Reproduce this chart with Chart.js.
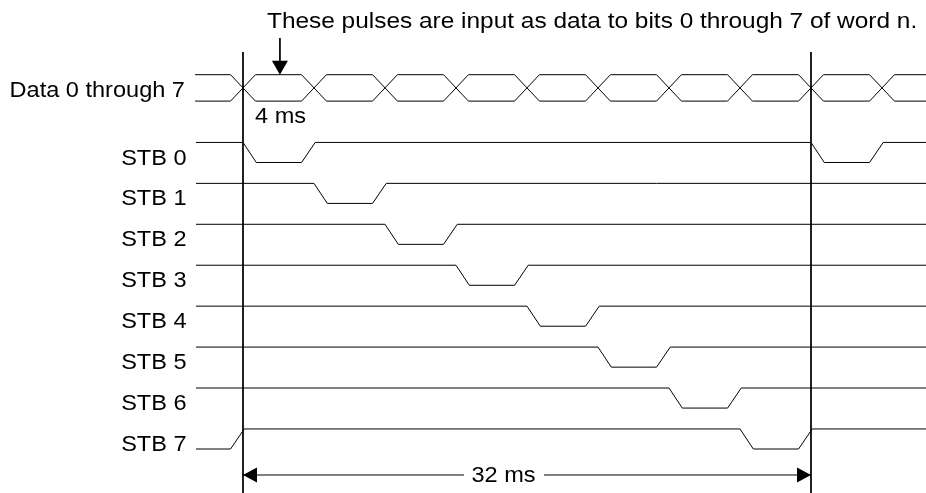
<!DOCTYPE html>
<html>
<head>
<meta charset="utf-8">
<script src="https://cdn.jsdelivr.net/npm/chart.js@4/dist/chart.umd.min.js"></script>
<style>
  body { margin: 0; background: #fff; }
  #wrap { width: 926px; height: 493px; position: relative; }
</style>
</head>
<body>
<div id="wrap"><canvas id="timing"></canvas></div>
<script>
// time in ms, levels in "lane" units (STB 7 low = 0)
const dataLabel = "Data 0 through 7";
const strobeLabels = ["STB 0", "STB 1", "STB 2", "STB 3", "STB 4", "STB 5", "STB 6", "STB 7"];
const strobeLow = [7, 6, 5, 4, 3, 2, 1, 0];
const strobePulseStarts = [[0, 32], [4], [8], [12], [16], [20], [24], [-4, 28]];
const pulseEdges = [0, 0.75, 3.3, 4.07]; // fall start, fall end, rise start, rise end
const dataCrossings = [0, 4, 8, 12, 16, 20, 24, 28, 32, 36];
const crossHalf = 0.7;
const dataLevels = [8.5, 9.145];
const markerTimes = [0, 32];
const titleText = "These pulses are input as data to bits 0 through 7 of word n.";
const cellText = "4 ms";
const spanText = "32 ms";

const pulseHeight = 0.49;
const traceStart = -2.65;
const traceEnd = 38.6;

function strobeTrace(starts, lo) {
  const hi = lo + pulseHeight;
  const pts = [];
  starts.forEach(t => {
    pts.push({ x: t + pulseEdges[0], y: hi }, { x: t + pulseEdges[1], y: lo },
             { x: t + pulseEdges[2], y: lo }, { x: t + pulseEdges[3], y: hi });
  });
  const out = [];
  let prev = { x: -Infinity, y: hi };
  for (const p of pts) {
    if (p.x <= traceStart) { prev = p; continue; }
    if (!out.length) {
      let y = prev.y;
      if (isFinite(prev.x)) y = prev.y + (p.y - prev.y) * (traceStart - prev.x) / (p.x - prev.x);
      out.push({ x: traceStart, y });
    }
    out.push(p);
  }
  if (!out.length) out.push({ x: traceStart, y: prev.y });
  out.push({ x: traceEnd, y: out[out.length - 1].y });
  return out;
}

function busTrace(startLevel) {
  let lvl = startLevel;
  const other = l => (l === dataLevels[0] ? dataLevels[1] : dataLevels[0]);
  const pts = [{ x: traceStart - 0.05, y: lvl }];
  dataCrossings.forEach(c => {
    pts.push({ x: c - crossHalf, y: lvl });
    lvl = other(lvl);
    pts.push({ x: c + crossHalf, y: lvl });
  });
  pts.push({ x: traceEnd, y: lvl });
  return pts;
}

const lineStyle = {
  showLine: true, borderColor: "#000", borderWidth: 1,
  pointRadius: 0, tension: 0, fill: false
};

const datasets = [];
datasets.push({ ...lineStyle, data: busTrace(dataLevels[1]) });
datasets.push({ ...lineStyle, data: busTrace(dataLevels[0]) });
strobeLabels.forEach((_, i) => {
  datasets.push({ ...lineStyle, data: strobeTrace(strobePulseStarts[i], strobeLow[i]) });
});
// reference lines at start / end of the 32 ms frame
markerTimes.forEach(t => {
  datasets.push({ ...lineStyle, data: [{ x: t, y: 9.7 }, { x: t, y: -1.2 }] });
});
// dimension line with gap for the label
const dimY = -0.635;
datasets.push({ ...lineStyle, data: [{ x: markerTimes[0], y: dimY }, { x: 12.45, y: dimY }] });
datasets.push({ ...lineStyle, data: [{ x: 16.96, y: dimY }, { x: markerTimes[1], y: dimY }] });
// pointer arrow shaft
const pointerX = 2.08;
datasets.push({ ...lineStyle, data: [{ x: pointerX, y: 10.04 }, { x: pointerX, y: 9.4 }] });

const FONT = '22px "Liberation Sans", Arial, sans-serif';

const annotations = {
  id: "annotations",
  afterDraw(chart) {
    const { ctx, scales: { x, y } } = chart;
    const px = v => x.getPixelForValue(v);
    const py = v => y.getPixelForValue(v);

    function text(str, vx, vy, align, stretch) {
      ctx.save();
      ctx.translate(px(vx), py(vy));
      ctx.scale(stretch || 1.07, 1);
      ctx.font = FONT;
      ctx.fillStyle = "#000";
      ctx.textAlign = align;
      ctx.textBaseline = "alphabetic";
      ctx.fillText(str, 0, 0);
      ctx.restore();
    }

    function tri(a, b, c) {
      ctx.beginPath();
      ctx.moveTo(a[0], a[1]);
      ctx.lineTo(b[0], b[1]);
      ctx.lineTo(c[0], c[1]);
      ctx.closePath();
      ctx.fillStyle = "#000";
      ctx.fill();
    }

    text(titleText, 1.35, 10.29, "left", 1.11);
    text(dataLabel, -3.27, 8.59, "right");
    strobeLabels.forEach((s, i) => text(s, -3.18, strobeLow[i] - 0.05, "right"));
    text(cellText, 0.68, 7.96, "left");
    text(spanText, 14.68, -0.80, "center");

    // pointer arrowhead
    const tx = px(pointerX), ty = py(dataLevels[1]);
    tri([tx, ty], [tx - 8, ty - 14], [tx + 8, ty - 14]);

    // dimension arrowheads
    const ay = py(dimY);
    const l = px(markerTimes[0]), r = px(markerTimes[1]);
    tri([l, ay], [l + 14, ay - 7.5], [l + 14, ay + 7.5]);
    tri([r, ay], [r - 14, ay - 7.5], [r - 14, ay + 7.5]);
  }
};

new Chart(document.getElementById("timing"), {
  type: "scatter",
  data: { datasets },
  options: {
    responsive: true,
    maintainAspectRatio: false,
    animation: false,
    layout: { padding: 0 },
    plugins: { legend: { display: false }, tooltip: { enabled: false } },
    scales: {
      x: { type: "linear", min: -13.69, max: 38.479, display: false },
      y: { type: "linear", min: -1.075, max: 10.97, display: false }
    }
  },
  plugins: [annotations]
});
</script>
</body>
</html>
